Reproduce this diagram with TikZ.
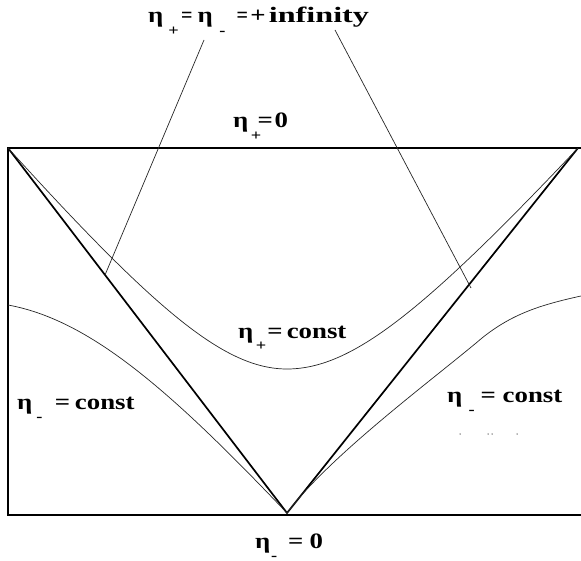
\documentclass[tikz,border=0pt]{standalone}
\usepackage{fontspec}
\setmainfont{Liberation Serif}
\newcommand\sbx[1]{\raisebox{-0.55em}[0pt][0pt]{\fontsize{15}{15}\selectfont #1}}
\newcommand\wide[1]{\scalebox{1.22}[1]{#1}}
\newcommand\smeq{\scalebox{0.75}[1]{=}}
\tikzset{
  thickline/.style={line width=1.7pt, black},
  thinline/.style={line width=0.7pt, black!85},
  lab/.style={font=\fontsize{22}{22}\selectfont\bfseries, inner sep=0pt, anchor=base west},
  dotmark/.style={fill=black!60, inner sep=0pt, minimum size=1.5pt, circle}
}
\begin{document}
\begin{tikzpicture}[x=1pt,y=-1pt]
\useasboundingbox (0,0) rectangle (581,561);
% frame
\coordinate (tl) at (8,148);
\coordinate (tr) at (578,148);
\coordinate (trE) at (581,148);
\coordinate (bl) at (8,515);
\coordinate (brE) at (581,515);
\coordinate (apex) at (287,513);
\draw[thickline] (trE) -- (tl) -- (bl) -- (brE);
% light cone
\draw[thickline, line join=miter] (tl) -- (apex) -- (tr);
% eta+ = const hyperbola
\draw[thinline] plot[domain=-1:0, samples=60, smooth] ({287+279*\x},{513-10*sqrt(207.36+1124.89*\x*\x)})
  -- plot[domain=0:1, samples=60, smooth] ({287+291*\x},{513-10*sqrt(207.36+1124.89*\x*\x)});
% eta- = const curves
\coordinate (lm0) at (8,305);
\coordinate (rm0) at (581,296);
\coordinate (rm1) at (482,338);
\draw[thinline] (lm0) .. controls (90,320) and (170,390) .. (apex);
\draw[thinline] (rm0) .. controls (540,305) and (512,314) .. (rm1)
  .. controls (435,378) and (330,455) .. (apex);
% pointer lines
\coordinate (pl0) at (204,40);
\coordinate (pl1) at (105,275);
\coordinate (pr0) at (335,30);
\coordinate (pr1) at (471,288);
\draw[thinline] (pl0) -- (pl1);
\draw[thinline] (pr0) -- (pr1);
% labels
\node[lab] (ltop) at (148,23) {\wide{η\hspace{4pt}\sbx{+}\hspace{2pt}\smeq\hspace{4pt}η\hspace{5.5pt}\sbx{-}\hspace{9pt}\smeq\hspace{2pt}+\hspace{2.5pt}\scalebox{1.2}[1]{infinity}}};
\node[lab] (lz) at (233,128) {\wide{η\rlap{\hspace{2pt}\sbx{+}}\hspace{7.5pt}=\hspace{1.5pt}0}};
\node[lab] (lc) at (238,338) {\wide{η\rlap{\hspace{2pt}\sbx{+}}\hspace{11.5pt}=\hspace{3.3pt}const}};
\node[lab] (ll) at (17,409) {\wide{η\hspace{3.3pt}\sbx{-}\hspace{10pt}=\hspace{4pt}const}};
\node[lab] (lr) at (447,402) {\wide{η\hspace{5pt}\sbx{-}\hspace{5pt}=\hspace{5.5pt}const}};
\node[lab] (lb) at (255,548) {\wide{η\hspace{0.5pt}\sbx{-}\hspace{9pt}=\hspace{5pt}0}};
% faint marks
\node[dotmark] (d1) at (460,434) {};
\node[dotmark] (d2) at (488,434) {};
\node[dotmark] (d3) at (492,434) {};
\node[dotmark] (d4) at (517,434) {};
\end{tikzpicture}
\end{document}
